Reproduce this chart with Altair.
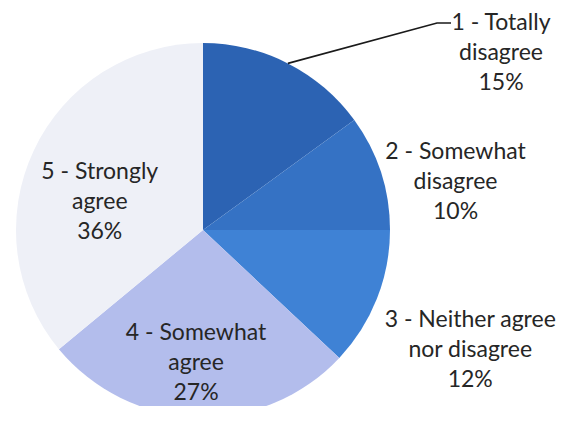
import math
import altair as alt
import pandas as pd

# ---- data ----
categories = ["1 - Totally disagree", "2 - Somewhat disagree",
              "3 - Neither agree nor disagree", "4 - Somewhat agree",
              "5 - Strongly agree"]
label_lines = [["1 - Totally", "disagree"], ["2 - Somewhat", "disagree"],
               ["3 - Neither agree", "nor disagree"], ["4 - Somewhat", "agree"],
               ["5 - Strongly", "agree"]]
values = [15, 10, 12, 27, 36]
colors = ["#2C63B3", "#3572C4", "#3F82D5", "#B3BDEC", "#EEF0F7"]

# ---- layout (label placement relative to slice mid-angle) ----
W, H = 548, 398
CX, CY, R = 195, 222, 187
LINE_H = 30
label_shift_deg = [32.3, 7.3, 2.6, 1.2, -10.0]
label_radius = [346.6, 257, 293, 133, 107]
leader_elbow = (-64, -30)
leader_end = (-50, -30)

total = sum(values)
rows = []
start = 0.0
for i, (c, v) in enumerate(zip(categories, values)):
    mid = (start + v / 2) / total * 360
    lt = math.radians(mid + label_shift_deg[i])
    rows.append({
        "idx": i, "cat": c, "value": v,
        "label": "\n".join(label_lines[i] + [f"{v}%"]),
        "mid": math.radians(mid),
        "lt": lt, "lr": label_radius[i],
    })
    start += v
df = pd.DataFrame(rows)

# leader line for the first slice
r0 = rows[0]
lx = CX + r0["lr"] * math.sin(r0["lt"])
ly = CY - r0["lr"] * math.cos(r0["lt"])
leader = pd.DataFrame({
    "x": [CX + R * math.sin(r0["mid"]), lx + leader_elbow[0], lx + leader_end[0]],
    "y": [CY - R * math.cos(r0["mid"]), ly + leader_elbow[1], ly + leader_end[1]],
    "o": [0, 1, 2],
})

base = alt.Chart(df)

pie = base.mark_arc(radius=R, stroke=None).encode(
    x=alt.value(CX), y=alt.value(CY),
    theta=alt.Theta("value:Q", stack=True),
    order=alt.Order("idx:Q"),
    color=alt.Color("cat:N", scale=alt.Scale(domain=categories, range=colors),
                    legend=None),
)

labels = base.mark_text(font="Lato", fontSize=23, lineHeight=LINE_H, color="#262626",
                        align="center", baseline="middle", lineBreak="\n",
                        dy=-LINE_H).encode(
    x=alt.value(CX), y=alt.value(CY),
    theta=alt.Theta("lt:Q", scale=None, stack=False),
    radius=alt.Radius("lr:Q", scale=None),
    text="label:N",
)

line = alt.Chart(leader).mark_line(color="#1a1a1a", strokeWidth=1.6).encode(
    x=alt.X("x:Q", scale=None, axis=None),
    y=alt.Y("y:Q", scale=None, axis=None),
    order="o:Q",
)

chart = alt.layer(pie, line, labels).properties(
    width=W, height=H, padding=0,
    autosize=alt.AutoSizeParams(type="none"),
).configure_view(stroke=None)

chart.save("out.html", embed_options={"renderer": "svg", "actions": False})
